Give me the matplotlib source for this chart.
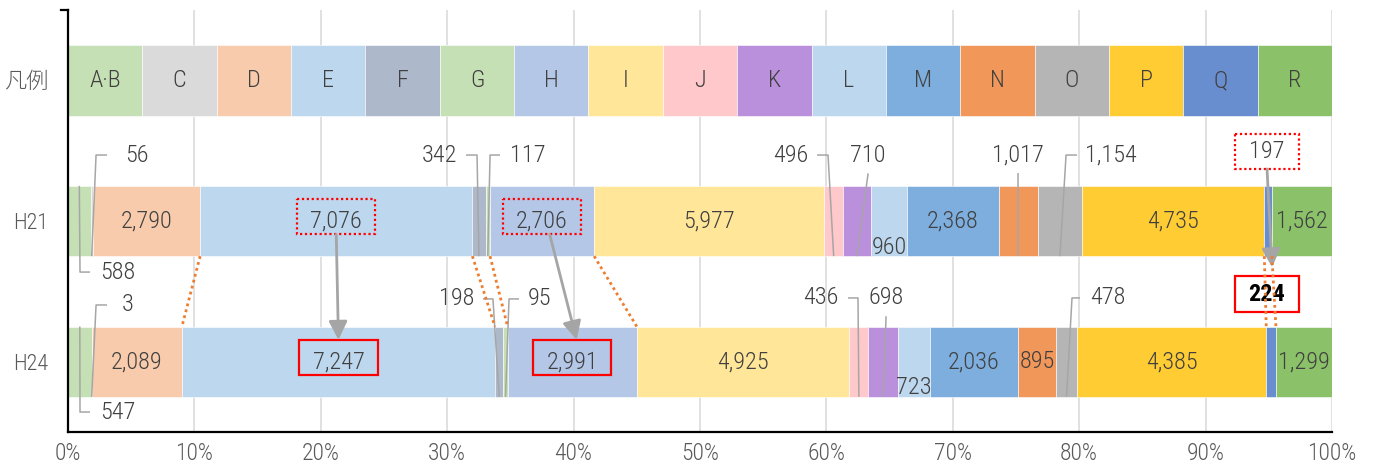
import matplotlib
matplotlib.use("Agg")
import matplotlib.pyplot as plt
from matplotlib import font_manager
from matplotlib.font_manager import FontProperties
from matplotlib.patches import Rectangle, FancyArrowPatch

# Data
CATEGORIES = ["A·B", "C", "D", "E", "F", "G", "H", "I", "J", "K", "L", "M", "N", "O", "P", "Q", "R"]
H21 = [588, 56, 2790, 7076, 342, 117, 2706, 5977, 496, 710, 960, 2368, 1017, 1154, 4735, 197, 1562]
H24 = [547, 3, 2089, 7247, 198, 95, 2991, 4925, 436, 698, 723, 2036, 895, 478, 4385, 224, 1299]
ROW_LABELS = ["凡例", "H21", "H24"]
X_TICKS = list(range(0, 101, 10))

COLORS = ["#C5E0B4", "#DADADA", "#F8CBAD", "#BDD7EE", "#ADB9CA", "#C5E0B4", "#B4C7E7",
          "#FFE699", "#FFC8CA", "#BA8FDC", "#BDD7EE", "#7DAEDE", "#F1975A", "#B5B5B5",
          "#FFCC33", "#698ED0", "#8BC168"]

# Styles
TEXT_COLOR = "#404040"
TICK_COLOR = "#595959"
LEADER_COLOR = "#A6A6A6"
ARROW_COLOR = "#A5A5A5"
ORANGE = "#ED7D31"
BAR_H = 0.5
FS = 17.5

# labels written inside the segment
INSIDE = {1: ["D", "E", "H", "I", "M", "P", "R"],
          2: ["D", "E", "H", "I", "M", "N", "P", "R"]}
# labels sitting low in the segment
LOW = {(1, "L"): 1.185, (2, "L"): 2.187}
# labels outside with leader lines: x, y, ha, (start, elbow) of the hook, end edge
LEADERS = {
    (1, "A·B"): (2.53, 1.363, "left", (1.74, 0.95), "top"),
    (1, "C"): (4.5, 0.531, "left", (3.09, 2.22), "bottom"),
    (1, "F"): (30.77, 0.531, "right", (31.49, 32.36), "bottom"),
    (1, "G"): (34.97, 0.531, "left", (34.18, 33.39), "bottom"),
    (1, "J"): (58.54, 0.531, "right", (59.26, 60.13), "bottom"),
    (1, "K"): (63.3, 0.531, "center", None, "bottom"),
    (1, "N"): (None, 0.531, "center", None, "bottom"),
    (1, "O"): (80.46, 0.531, "left", (79.83, 78.96), "bottom"),
    (2, "A·B"): (2.53, 2.358, "left", (1.74, 0.95), "top"),
    (2, "C"): (4.27, 1.597, "left", (3.09, 2.22), "bottom"),
    (2, "F"): (32.12, 1.554, "right", (32.83, 33.62), "bottom"),
    (2, "G"): (36.39, 1.554, "left", (35.68, 34.89), "bottom"),
    (2, "J"): (60.92, 1.547, "right", (61.71, 62.5), "bottom"),
    (2, "K"): (64.72, 1.547, "center", None, "bottom"),
    (2, "O"): (80.85, 1.547, "left", (80.06, 79.43), "bottom"),
}
# boxed labels (changes between H21 and H24)
HIGHLIGHT = ["E", "H", "Q"]
Q_LABEL_POS = {1: (94.86, 0.505), 2: (94.86, 1.519)}


def pick_font(names):
    for n in names:
        try:
            font_manager.findfont(FontProperties(family=n), fallback_to_default=False)
            return n
        except Exception:
            pass
    return "DejaVu Sans"


BASE_FONT = pick_font(["Liberation Sans Narrow", "Roboto Condensed", "DejaVu Sans"])
plt.rcParams["font.family"] = [BASE_FONT, "Noto Sans CJK JP", "DejaVu Sans"]
plt.rcParams["font.weight"] = "light"


def shares_and_lefts(vals):
    total = sum(vals)
    shares = [v / total * 100 for v in vals]
    lefts = []
    acc = 0
    for s in shares:
        lefts.append(acc)
        acc += s
    return shares, lefts


fig = plt.figure(figsize=(13.77, 4.65), dpi=100)
ax = fig.add_axes([68 / 1377, 1 - 432 / 465, 1264 / 1377, 422 / 465])

# legend row: equal segments
n = len(CATEGORIES)
leg_shares, leg_lefts = shares_and_lefts([1] * n)
ax.barh(0, leg_shares, left=leg_lefts, height=BAR_H, color=COLORS, edgecolor="white", linewidth=0.4, zorder=2)
for cat, s, l in zip(CATEGORIES, leg_shares, leg_lefts):
    ax.text(l + s / 2, 0, cat, ha="center", va="center", fontsize=FS, color=TEXT_COLOR, zorder=5)

geo = {}
for row, vals in ((1, H21), (2, H24)):
    shares, lefts = shares_and_lefts(vals)
    ax.barh(row, shares, left=lefts, height=BAR_H, color=COLORS, edgecolor="white", linewidth=0.4, zorder=2)
    for cat, v, s, l in zip(CATEGORIES, vals, shares, lefts):
        geo[(row, cat)] = (l, s)
        mid = l + s / 2
        label = f"{v:,}"
        if cat in INSIDE[row]:
            ax.text(mid, row, label, ha="center", va="center", fontsize=FS, color=TEXT_COLOR, zorder=5)
        elif (row, cat) in LOW:
            ax.text(mid, LOW[(row, cat)], label, ha="center", va="center", fontsize=FS, color=TEXT_COLOR, zorder=5)
        elif (row, cat) in LEADERS:
            tx, ty, ha, hook, end = LEADERS[(row, cat)]
            if tx is None:
                tx = mid
            ax.text(tx, ty, label, ha=ha, va="center", fontsize=FS, color=TEXT_COLOR, zorder=5)
            ey = row - BAR_H / 2 if end == "top" else row + BAR_H / 2
            if hook is not None:
                xs = [hook[0], hook[1], mid]
                ys = [ty, ty, ey]
            else:
                xs = [tx, mid]
                ys = [ty + 0.13, ey]
            ax.plot(xs, ys, color=LEADER_COLOR, lw=1.1, zorder=3, solid_capstyle="butt")

# highlighted labels with boxes and arrows
box_w, box_h = 6.2, 0.25
centers = {}
for cat in HIGHLIGHT:
    i = CATEGORIES.index(cat)
    for row, vals in ((1, H21), (2, H24)):
        l, s = geo[(row, cat)]
        if cat == "Q":
            cx, cy = Q_LABEL_POS[row]
            w = 5.1
            weight, col = ("bold", "black") if row == 2 else ("light", TEXT_COLOR)
            ax.text(cx, cy, f"{vals[i]:,}", ha="center", va="center", fontsize=FS,
                    color=col, fontweight=weight, zorder=5)
        else:
            cx, cy = l + s / 2, row - 0.03
            w = box_w
        centers[(row, cat)] = (cx, cy)
        if row == 1:
            rect = Rectangle((cx - w / 2, cy - box_h / 2), w, box_h, fill=False, ec="red",
                             lw=1.6, ls=(0, (1, 1.2)), zorder=4)
        else:
            rect = Rectangle((cx - w / 2, cy - box_h / 2), w, box_h, fill=(cat == "Q"),
                             fc="white", ec="red", lw=1.6, zorder=4)
        ax.add_patch(rect)

    (x0, y0), (x1, y1) = centers[(1, cat)], centers[(2, cat)]
    if cat == "E":
        sx, exx = x0, x1
    elif cat == "H":
        sx, exx = x0 + 0.6, x1 + 0.35
    else:
        sx, exx = x0, x0 + 0.4
    end_gap = 0.065 if cat == "Q" else 0.0
    arrow = FancyArrowPatch((sx, y0 + box_h / 2), (exx, y1 - box_h / 2 - end_gap),
                            arrowstyle="-|>,head_length=0.8,head_width=0.4", mutation_scale=14,
                            lw=2.0, color=ARROW_COLOR, shrinkA=0, shrinkB=0, zorder=4)
    ax.add_patch(arrow)

    # orange dotted connectors between segment boundaries
    l1, s1 = geo[(1, cat)]
    l2, s2 = geo[(2, cat)]
    for b1, b2 in ((l1, l2), (l1 + s1, l2 + s2)):
        ax.plot([b1, b2], [1 + BAR_H / 2, 2 - BAR_H / 2], color=ORANGE, lw=2.0,
                ls=(0, (1, 1.2)), zorder=6)

# axes styling
ax.set_xlim(0, 100)
ax.set_ylim(2.5, -0.5)
ax.set_xticks(X_TICKS)
ax.set_xticklabels([f"{t}%" for t in X_TICKS], fontsize=17, color=TICK_COLOR)
ax.set_yticks([0, 1, 2])
ax.set_yticklabels(ROW_LABELS, fontsize=16, color=TICK_COLOR)
ax.tick_params(axis="x", length=0, pad=7)
ax.tick_params(axis="y", length=0, pad=14)
ax.grid(axis="x", color="#D9D9D9", lw=1.1, zorder=0)
ax.set_axisbelow(True)
for side in ("top", "right"):
    ax.spines[side].set_visible(False)
ax.spines["left"].set_linewidth(1.6)
ax.spines["bottom"].set_linewidth(1.6)
ax.plot([-0.55, 0], [-0.5, -0.5], color="black", lw=1.6, clip_on=False, zorder=7)

fig.savefig("out.png", dpi=100)
